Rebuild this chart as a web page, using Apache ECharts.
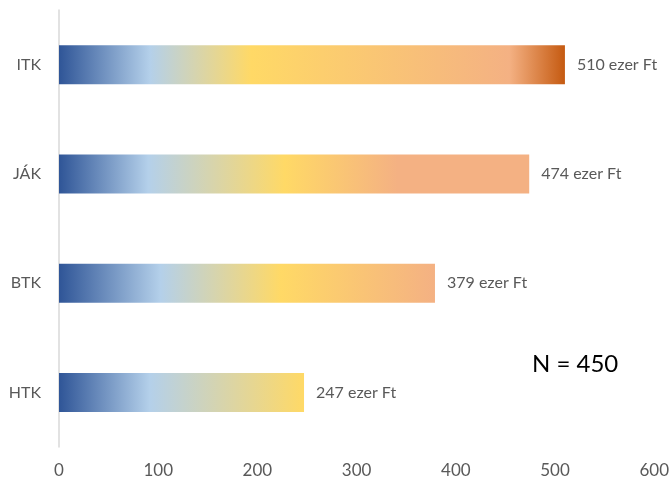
<!DOCTYPE html>
<html><head><meta charset="utf-8">
<script src="https://cdn.jsdelivr.net/npm/echarts@6/dist/echarts.min.js"></script>
<style>html,body{margin:0;padding:0;background:#fff}#c{width:672px;height:483px}</style>
</head><body><div id="c"></div>
<script>
const categories = ['HTK', 'BTK', 'JÁK', 'ITK'];
const values = [247, 379, 474, 510];
const xTicks = [0, 100, 200, 300, 400, 500, 600];
const unit = 'ezer Ft';
const note = 'N = 450';

// per-bar gradient stops (style only)
const barStops = [
  [[0,'#2F5597'],[0.37,'#B4D0EA'],[1,'#FFD966']],
  [[0,'#2F5597'],[0.27,'#B4D0EA'],[0.59,'#FFD966'],[1,'#F4B183']],
  [[0,'#2F5597'],[0.19,'#B4D0EA'],[0.48,'#FFD966'],[0.72,'#F4B183'],[1,'#F4B183']],
  [[0,'#2F5597'],[0.18,'#B4D0EA'],[0.38,'#FFD966'],[0.89,'#F4B183'],[1,'#C55A11']]
];
function grad(stops){
  return new echarts.graphic.LinearGradient(0,0,1,0, stops.map(s=>({offset:s[0],color:s[1]})));
}
const chart = echarts.init(document.getElementById('c'));
const font = 'Lato, "Open Sans", sans-serif';
chart.setOption({
  animation:false,
  grid:{left:59,right:16,top:10,bottom:36},
  xAxis:{type:'value',min:xTicks[0],max:xTicks[xTicks.length-1],interval:100,
    axisLine:{show:false},axisTick:{show:false},splitLine:{show:false},
    axisLabel:{color:'#595959',fontSize:17,fontFamily:font,margin:15}},
  yAxis:{type:'category',data:categories,
    axisLine:{show:true,lineStyle:{color:'#D9D9D9',width:1.5}},axisTick:{show:false},
    axisLabel:{color:'#595959',fontSize:16,fontFamily:font,margin:18}},
  series:[{type:'bar',barWidth:39,
    data:values.map((v,i)=>({value:v,itemStyle:{color:grad(barStops[i])}})),
    label:{show:true,position:'right',distance:12,color:'#595959',fontSize:16,fontFamily:font,
      formatter:p=>p.value+' '+unit}}],
  graphic:[{type:'text',left:532,top:352,style:{text:note,fontSize:24,fill:'#000',fontFamily:font}}]
});
</script></body></html>
